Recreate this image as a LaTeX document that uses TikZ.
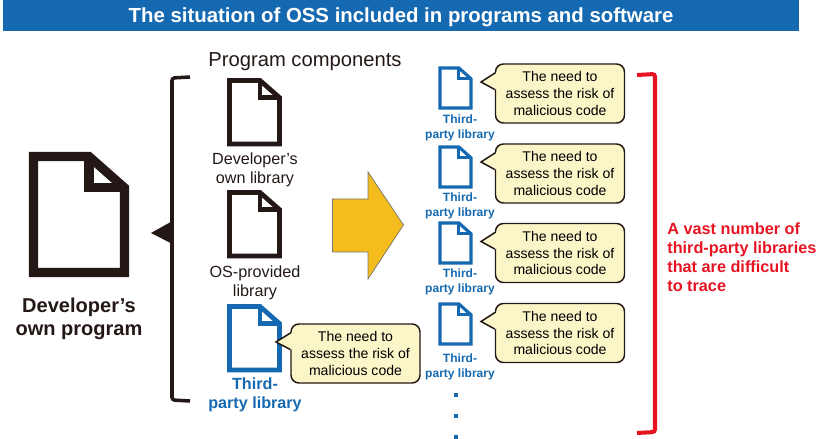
\documentclass[tikz,border=0pt]{standalone}
\usepackage{fontspec}
\setmainfont{Liberation Sans}
\usepackage{xcolor}
\definecolor{ossblue}{RGB}{21,105,176}
\definecolor{ossblack}{RGB}{35,24,21}
\definecolor{ossyellow}{RGB}{245,188,30}
\definecolor{ossred}{RGB}{230,20,35}
\definecolor{bubblefill}{RGB}{250,246,200}
\usepackage{tikz}
\usetikzlibrary{arrows.meta, positioning, calc}

% name, left, top, right, bottom (centre line of the outline), style
\newcommand{\docicon}[6]{%
    \coordinate (#1) at ({(#2+#4)/2},{(#3+#5)/2});
    \draw[#6] (#2,#3) -- ({#2+0.61*(#4-#2)},#3) -- (#4,{#3+0.27*(#5-#3)}) -- (#4,#5) -- (#2,#5) -- cycle;
    \draw[#6] ({#2+0.61*(#4-#2)},#3) -- ({#2+0.61*(#4-#2)},{#3+0.27*(#5-#3)}) -- (#4,{#3+0.27*(#5-#3)});
}
% bubble, tip: the tail over the left edge of a bubble
\newcommand{\bubbletail}[2]{%
    \fill[bubblefill] ([yshift=21*0.02cm]#1.west) -- (#2) -- ([yshift=4*0.02cm]#1.west) -- ([xshift=2*0.02cm,yshift=4*0.02cm]#1.west) -- ([xshift=2*0.02cm,yshift=21*0.02cm]#1.west) -- cycle;
    \draw[line width=0.85pt, ossblack, line join=miter] ([xshift=1*0.02cm,yshift=21*0.02cm]#1.west) -- (#2) -- ([yshift=4*0.02cm]#1.west);
}

\begin{document}
\begin{tikzpicture}[
    x=0.02cm, y=-0.02cm,
    bubble/.style={
        rectangle,
        draw=ossblack,
        fill=bubblefill,
        line width=0.85pt,
        rounded corners=4.5pt,
        minimum width=129*0.02cm,
        minimum height=59*0.02cm,
        inner sep=0pt,
        align=center,
        font=\fontsize{8}{9.5}\selectfont
    },
    bigdoc/.style={draw=ossblack, line width=5.2pt, miter limit=10},
    meddoc/.style={draw=ossblack, line width=2.7pt},
    bluedoc/.style={draw=ossblue, line width=2.7pt},
    smalldoc/.style={draw=ossblue, line width=1.8pt},
    complab/.style={align=center, text=ossblack, inner sep=0pt, font=\fontsize{9.2}{10.7}\selectfont},
    smalllab/.style={align=center, text=ossblue, inner sep=0pt, font=\fontsize{6.85}{8.5}\selectfont\bfseries},
    dotmark/.style={rectangle, fill=ossblue, inner sep=0pt, minimum size=4*0.02cm},
    brack/.style={rounded corners=1.5pt}
]
\useasboundingbox (0,0) rectangle (816,439);

% title
\node[fill=ossblue, minimum width=796*0.02cm, minimum height=31*0.02cm, inner sep=0pt, text=white, text height=9pt, text depth=0.7pt, font=\fontsize{11.6}{13}\selectfont\bfseries] (title) at (401,15.5) {The situation of OSS included in programs and software};

% own program
\docicon{owndoc}{33.5}{156.5}{124.5}{272.5}{bigdoc}
\node[align=center, text=ossblack, inner sep=0pt, font=\fontsize{11.4}{13}\selectfont\bfseries] (ownlab) at (79,319) {Developer’s\\own program};

% black bracket
\draw[brack, ossblack, line width=2pt] (190,77) -- (172,78) -- (172,400) -- (190,401);
\fill[ossblack] (172.5,221) -- (151,233) -- (172.5,244) -- cycle;

% components
\node[text=ossblack, inner sep=0pt, font=\fontsize{11.5}{13}\selectfont] (complab) at (305,62) {Program components};
\docicon{libdoca}{229.5}{80.5}{279.5}{144}{meddoc}
\node[complab] (liblaba) at (255,169.5) {Developer’s\\own library};
\docicon{libdocb}{229.5}{192.5}{279.5}{256}{meddoc}
\node[complab] (liblabb) at (255,283) {OS-provided\\library};
\docicon{libdocc}{229.5}{306.5}{279.5}{370}{bluedoc}
\node[align=center, text=ossblue, inner sep=0pt, font=\fontsize{9.2}{10.8}\selectfont\bfseries] (liblabc) at (255,395) {Third-\\party library};
\node[bubble] (bubc) at (355.5,353.5) {The need to\\assess the risk of\\malicious code};
\bubbletail{bubc}{276,342}

% big arrow
\draw[fill=ossyellow, draw=black!55, line width=0.4pt] (332.5,199) -- (368,199) -- (368,172) -- (403.5,225) -- (368,279) -- (368,252) -- (332.5,252) -- cycle;

% third-party libraries
\docicon{thirddoca}{440}{68}{471}{108}{smalldoc}
\node[smalllab] (thirdlaba) at (460,127.5) {Third-\\party library};
\node[bubble] (buba) at (560,93.5) {The need to\\assess the risk of\\malicious code};
\bubbletail{buba}{481,82}

\docicon{thirddocb}{440}{147}{471}{187}{smalldoc}
\node[smalllab] (thirdlabb) at (460,206) {Third-\\party library};
\node[bubble] (bubb) at (560,173.5) {The need to\\assess the risk of\\malicious code};
\bubbletail{bubb}{481,162}

\docicon{thirddocc}{440}{223}{471}{263}{smalldoc}
\node[smalllab] (thirdlabc) at (460,282) {Third-\\party library};
\node[bubble] (bubd) at (560,253) {The need to\\assess the risk of\\malicious code};
\bubbletail{bubd}{481,241.5}

\docicon{thirddocd}{440}{304}{471}{344}{smalldoc}
\node[smalllab] (thirdlabd) at (460,367) {Third-\\party library};
\node[bubble] (bube) at (560,333) {The need to\\assess the risk of\\malicious code};
\bubbletail{bube}{481,321.5}

\node[dotmark] (dota) at (456,395) {};
\node[dotmark] (dotb) at (456,416) {};
\node[dotmark] (dotc) at (456,437) {};

% red bracket
\draw[brack, ossred, line width=2.3pt] (637,75) -- (655,74) -- (655,432) -- (637,433);
\node[anchor=west, align=left, text=ossred, inner sep=0pt, font=\fontsize{9.25}{10.8}\selectfont\bfseries] (redlab) at (667,257) {A vast number of\\third-party libraries\\that are difficult\\to trace};

\end{tikzpicture}
\end{document}
